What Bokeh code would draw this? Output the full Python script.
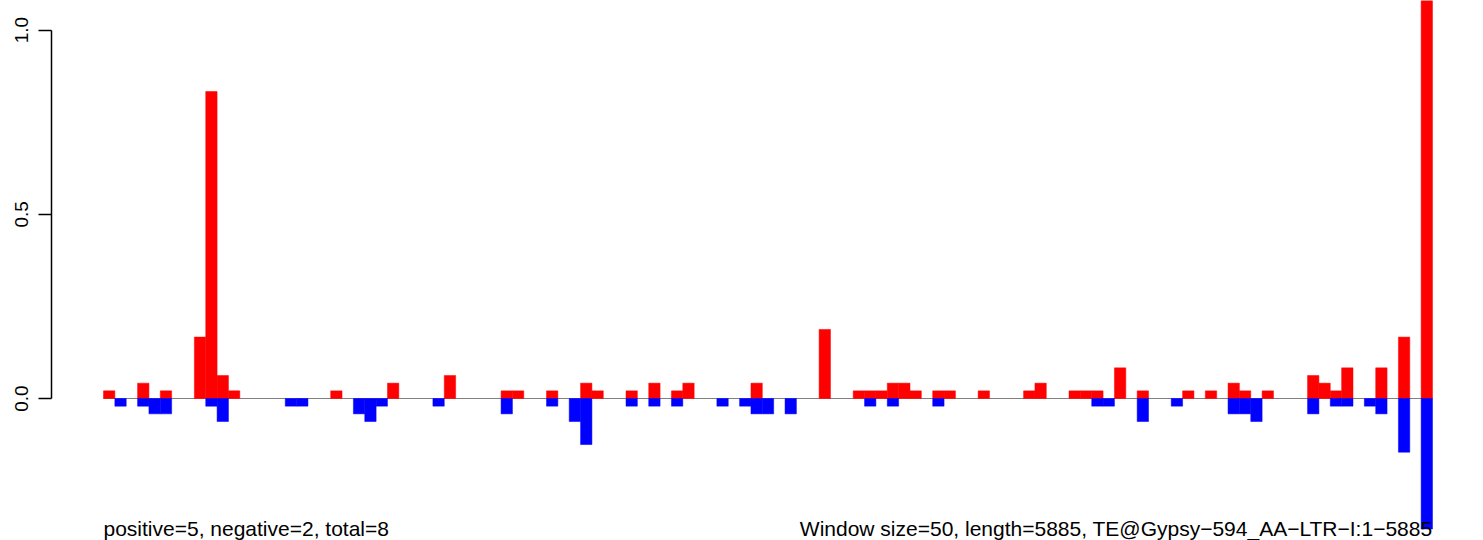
from bokeh.plotting import figure
from bokeh.models import Range1d, FixedTicker, NumeralTickFormatter, ColumnDataSource, Label
from bokeh.embed import file_html
from bokeh.resources import INLINE

# ---- data ----
window_size = 50
seq_length = 5885
left_note = "positive=5, negative=2, total=8"
right_note = "Window size=50, length=5885, TE@Gypsy\u2212594_AA\u2212LTR\u2212I:1\u22125885"

pos_values = [
    0.0208, 0, 0, 0.0417, 0, 0.0208, 0, 0, 0.1667, 0.8333,
    0.0625, 0.0208, 0, 0, 0, 0, 0, 0, 0, 0,
    0.0208, 0, 0, 0, 0, 0.0417, 0, 0, 0, 0,
    0.0625, 0, 0, 0, 0, 0.0208, 0.0208, 0, 0, 0.0208,
    0, 0, 0.0417, 0.0208, 0, 0, 0.0208, 0, 0.0417, 0,
    0.0208, 0.0417, 0, 0, 0, 0, 0, 0.0417, 0, 0,
    0, 0, 0, 0.1875, 0, 0, 0.0208, 0.0208, 0.0208, 0.0417,
    0.0417, 0.0208, 0, 0.0208, 0.0208, 0, 0, 0.0208, 0, 0,
    0, 0.0208, 0.0417, 0, 0, 0.0208, 0.0208, 0.0208, 0, 0.0833,
    0, 0.0208, 0, 0, 0, 0.0208, 0, 0.0208, 0, 0.0417,
    0.0208, 0, 0.0208, 0, 0, 0, 0.0625, 0.0417, 0.0208, 0.0833,
    0, 0, 0.0833, 0, 0.1667, 0, 1.25,
]

neg_values = [
    0, -0.0208, 0, -0.0208, -0.0417, -0.0417, 0, 0, 0, -0.0208,
    -0.0625, 0, 0, 0, 0, 0, -0.0208, -0.0208, 0, 0,
    0, 0, -0.0417, -0.0625, -0.0208, 0, 0, 0, 0, -0.0208,
    0, 0, 0, 0, 0, -0.0417, 0, 0, 0, -0.0208,
    0, -0.0625, -0.125, 0, 0, 0, -0.0208, 0, -0.0208, 0,
    -0.0208, 0, 0, 0, -0.0208, 0, -0.0208, -0.0417, -0.0417, 0,
    -0.0417, 0, 0, 0, 0, 0, 0, -0.0208, 0, -0.0208,
    0, 0, 0, -0.0208, 0, 0, 0, 0, 0, 0,
    0, 0, 0, 0, 0, 0, 0, -0.0208, -0.0208, 0,
    0, -0.0625, 0, 0, -0.0208, 0, 0, 0, 0, -0.0417,
    -0.0417, -0.0625, 0, 0, 0, 0, -0.0417, 0, -0.0208, -0.0208,
    0, -0.0208, -0.0417, 0, -0.1458, 0, -0.3542,
]

y_ticks = [0.0, 0.5, 1.0]

n_win = len(pos_values)

pos_src = ColumnDataSource(dict(
    x=[i + 0.5 for i, v in enumerate(pos_values) if v != 0],
    top=[v for v in pos_values if v != 0],
))
neg_src = ColumnDataSource(dict(
    x=[i + 0.5 for i, v in enumerate(neg_values) if v != 0],
    bottom=[v for v in neg_values if v != 0],
))

FONT = "Liberation Sans"

p = figure(
    width=1483, height=540,
    output_backend="svg", toolbar_location=None,
    x_range=Range1d(-4.578, 121.49),
    y_range=Range1d(-0.3854, 1.0803),
    x_axis_location=None,
    min_border_left=51, min_border_right=0,
    min_border_top=0, min_border_bottom=0,
)
p.outline_line_color = None
p.grid.visible = False
p.background_fill_color = "white"
p.border_fill_color = "white"

# baseline
p.line(x=[0, n_win], y=[0, 0], line_color="#808080", line_width=1.2)

p.vbar(x="x", width=1, top="top", bottom=0, source=pos_src,
       fill_color="#FF0000", line_color="#FF0000", line_width=0.5)
p.vbar(x="x", width=1, top=0, bottom="bottom", source=neg_src,
       fill_color="#0000FF", line_color="#0000FF", line_width=0.5)

ax = p.yaxis[0]
ax.ticker = FixedTicker(ticks=y_ticks)
ax.formatter = NumeralTickFormatter(format="0.0")
ax.bounds = (0, 1)
ax.axis_line_color = "black"
ax.axis_line_width = 1.5
ax.major_tick_line_color = "black"
ax.major_tick_line_width = 1.5
ax.major_tick_out = 13
ax.major_tick_in = 0
ax.minor_tick_out = 0
ax.minor_tick_in = 0
ax.major_label_orientation = "vertical"
ax.major_label_standoff = 10
ax.major_label_text_font = FONT
ax.major_label_text_font_size = "19px"
ax.major_label_text_color = "black"

note_y = -0.353
p.add_layout(Label(x=0, y=note_y, text=left_note, text_align="left",
                   text_baseline="alphabetic", text_font=FONT,
                   text_font_size="21px", text_color="black"))
p.add_layout(Label(x=n_win, y=note_y, text=right_note, text_align="right",
                   text_baseline="alphabetic", text_font=FONT,
                   text_font_size="21px", text_color="black"))

open("out.html", "w").write(file_html(p, INLINE))
